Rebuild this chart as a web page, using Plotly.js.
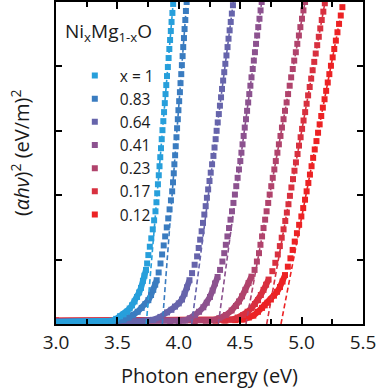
<!DOCTYPE html>
<html>
<head>
<meta charset="utf-8">
<script src="https://cdn.plot.ly/plotly-3.0.1.min.js"></script>
<style>html,body{margin:0;padding:0;background:#fff;}#chart{width:378px;height:390px;}</style>
</head>
<body>
<div id="chart"></div>
<script>
// ---- data ----
const labels = ['x = 1', '0.83', '0.64', '0.41', '0.23', '0.17', '0.12'];
const colors = ['#279fdb', '#3a7cc0', '#6664ab', '#8c528f', '#b0436c', '#d8303f', '#ec2224'];

// linear fits: energy where fit = 0 and where fit = 5
const fitLo = [3.735, 3.866, 4.105, 4.322, 4.547, 4.716, 4.832];
const fitHi = [3.955, 4.064, 4.444, 4.675, 5.028, 5.191, 5.340];
const fitY = [0, 5];

// x = 1
const tailX_100 = [3.00,3.40,3.456,3.49,3.521,3.55,3.578,3.60,3.619,3.64,3.66,3.677,3.692,3.708,3.72,3.733];
const tailY_100 = [0.03,0.03,0.05,0.08,0.12,0.15,0.19,0.24,0.29,0.35,0.42,0.49,0.56,0.67,0.75,0.84];
const markX_100 = [3.742,3.752,3.764,3.776,3.788,3.799,3.810,3.818,3.824,3.830,3.837,3.843,3.849,3.855,3.861,3.867,3.874,3.880,3.886,3.892,3.898,3.904,3.911,3.917,3.923,3.929,3.935,3.941,3.948,3.954];
const markY_100 = [0.94,1.07,1.20,1.33,1.47,1.61,1.75,1.89,2.03,2.17,2.31,2.45,2.59,2.73,2.87,3.01,3.15,3.29,3.43,3.57,3.71,3.85,3.99,4.13,4.27,4.41,4.55,4.69,4.83,4.97];

// x = 0.83
const tailX_083 = [3.00,3.40,3.44,3.50,3.548,3.59,3.629,3.665,3.698,3.728,3.752,3.774,3.792,3.808,3.82];
const tailY_083 = [0.03,0.03,0.04,0.05,0.065,0.10,0.14,0.19,0.25,0.31,0.37,0.45,0.53,0.61,0.68];
const markX_083 = [3.836,3.851,3.864,3.877,3.889,3.902,3.914,3.925,3.936,3.946,3.953,3.959,3.964,3.970,3.975,3.981,3.986,3.992,3.997,4.003,4.009,4.014,4.020,4.025,4.031,4.036,4.042,4.047,4.053,4.058,4.064];
const markY_083 = [0.80,0.94,1.08,1.22,1.36,1.50,1.64,1.78,1.92,2.06,2.20,2.34,2.48,2.62,2.76,2.90,3.04,3.18,3.32,3.46,3.60,3.74,3.88,4.02,4.16,4.30,4.44,4.58,4.72,4.86,5.00];

// x = 0.64
const tailX_064 = [3.00,3.60,3.70,3.79,3.85,3.904,3.94,3.969,4.00,4.026,4.047,4.067,4.087];
const tailY_064 = [0.035,0.035,0.045,0.065,0.11,0.18,0.22,0.27,0.32,0.38,0.47,0.57,0.68];
const markX_064 = [4.108,4.129,4.149,4.162,4.174,4.186,4.197,4.208,4.219,4.229,4.239,4.250,4.260,4.271,4.282,4.291,4.300,4.308,4.317,4.326,4.335,4.344,4.352,4.361,4.370,4.379,4.388,4.397,4.405,4.414,4.423,4.432,4.441];
const markY_064 = [0.79,0.92,1.05,1.18,1.31,1.44,1.57,1.70,1.83,1.96,2.09,2.22,2.35,2.48,2.61,2.74,2.87,3.00,3.13,3.26,3.39,3.52,3.65,3.78,3.91,4.04,4.17,4.30,4.43,4.56,4.69,4.82,4.95];

// x = 0.41
const tailX_041 = [3.00,3.93,4.00,4.05,4.09,4.132,4.165,4.20,4.228,4.254,4.275,4.295,4.316];
const tailY_041 = [0.04,0.04,0.045,0.055,0.09,0.14,0.19,0.26,0.33,0.42,0.52,0.63,0.73];
const markX_041 = [4.336,4.355,4.370,4.383,4.396,4.409,4.421,4.433,4.445,4.457,4.468,4.479,4.490,4.501,4.510,4.519,4.528,4.537,4.547,4.556,4.565,4.574,4.583,4.592,4.602,4.611,4.620,4.629,4.638,4.647,4.657,4.666,4.675];
const markY_041 = [0.84,0.97,1.10,1.23,1.36,1.49,1.62,1.75,1.88,2.01,2.14,2.27,2.40,2.53,2.66,2.79,2.92,3.05,3.18,3.31,3.44,3.57,3.70,3.83,3.96,4.09,4.22,4.35,4.48,4.61,4.74,4.87,5.00];

// x = 0.23
const tailX_023 = [3.00,4.13,4.22,4.279,4.33,4.384,4.43,4.466,4.49,4.515,4.542,4.568,4.592];
const tailY_023 = [0.045,0.045,0.05,0.06,0.09,0.14,0.21,0.28,0.35,0.43,0.53,0.635,0.735];
const markX_023 = [4.617,4.636,4.653,4.665,4.678,4.690,4.703,4.715,4.728,4.740,4.753,4.765,4.778,4.790,4.803,4.815,4.828,4.840,4.853,4.865,4.878,4.890,4.903,4.915,4.928,4.940,4.953,4.965,4.978,4.990,5.003,5.015,5.028];
const markY_023 = [0.84,0.97,1.10,1.23,1.36,1.49,1.62,1.75,1.88,2.01,2.14,2.27,2.40,2.53,2.66,2.79,2.92,3.05,3.18,3.31,3.44,3.57,3.70,3.83,3.96,4.09,4.22,4.35,4.48,4.61,4.74,4.87,5.00];

// x = 0.17
const tailX_017 = [3.00,4.30,4.37,4.433,4.48,4.525,4.56,4.594,4.62,4.645,4.668,4.690,4.711,4.731];
const tailY_017 = [0.05,0.05,0.055,0.07,0.10,0.14,0.19,0.25,0.31,0.37,0.45,0.53,0.61,0.69];
const markX_017 = [4.762,4.786,4.806,4.823,4.838,4.853,4.867,4.880,4.893,4.905,4.917,4.930,4.942,4.954,4.967,4.979,4.992,5.004,5.016,5.029,5.041,5.053,5.066,5.078,5.090,5.103,5.115,5.127,5.140,5.152,5.164,5.177,5.189];
const markY_017 = [0.82,0.95,1.08,1.21,1.34,1.47,1.60,1.73,1.86,1.99,2.12,2.25,2.38,2.51,2.64,2.77,2.90,3.03,3.16,3.29,3.42,3.55,3.68,3.81,3.94,4.07,4.20,4.33,4.46,4.59,4.72,4.85,4.98];

// x = 0.12
const tailX_012 = [3.00,4.38,4.46,4.525,4.57,4.607,4.645,4.678,4.70,4.722,4.75,4.775,4.80,4.824,4.845,4.865];
const tailY_012 = [0.055,0.055,0.06,0.07,0.10,0.13,0.19,0.25,0.29,0.33,0.38,0.44,0.50,0.575,0.66,0.76];
const markX_012 = [4.888,4.909,4.927,4.944,4.962,4.980,4.998,5.013,5.028,5.041,5.055,5.068,5.081,5.094,5.107,5.121,5.134,5.147,5.160,5.173,5.187,5.200,5.213,5.226,5.239,5.253,5.266,5.279,5.292,5.305,5.319,5.332,5.345];
const markY_012 = [0.89,1.02,1.15,1.28,1.41,1.54,1.67,1.80,1.93,2.06,2.19,2.32,2.45,2.58,2.71,2.84,2.97,3.10,3.23,3.36,3.49,3.62,3.75,3.88,4.01,4.14,4.27,4.40,4.53,4.66,4.79,4.92,5.05];

const xTickVals = [3.0, 3.5, 4.0, 4.5, 5.0, 5.5];
const xTickText = ['3.0', '3.5', '4.0', '4.5', '5.0', '5.5'];

// ---- build ----
const FONT = 'Open Sans, sans-serif';
const TXT = '#1a1a1a';
const tails = [[tailX_100,tailY_100],[tailX_083,tailY_083],[tailX_064,tailY_064],[tailX_041,tailY_041],[tailX_023,tailY_023],[tailX_017,tailY_017],[tailX_012,tailY_012]];
const marks = [[markX_100,markY_100],[markX_083,markY_083],[markX_064,markY_064],[markX_041,markY_041],[markX_023,markY_023],[markX_017,markY_017],[markX_012,markY_012]];

const traces = [];
for (let i = labels.length - 1; i >= 0; i--) {
  const c = colors[i];
  traces.push({
    x: tails[i][0], y: tails[i][1], type: 'scatter', mode: 'lines',
    line: {color: c, width: 6}, showlegend: false, hoverinfo: 'skip'
  });
  traces.push({
    x: tails[i][0].concat(marks[i][0]), y: tails[i][1].concat(marks[i][1]),
    type: 'scatter', mode: 'markers', name: labels[i], legendrank: i + 1,
    marker: {symbol: 'square', size: 6, color: c}
  });
  traces.push({
    x: [fitLo[i], fitHi[i]], y: fitY, type: 'scatter', mode: 'lines',
    line: {color: c, width: 1.6, dash: '5px,3px'}, showlegend: false, hoverinfo: 'skip'
  });
}

const layout = {
  width: 378, height: 390,
  margin: {l: 56, r: 15, t: 2, b: 66},
  paper_bgcolor: '#fff', plot_bgcolor: '#fff',
  font: {family: FONT, color: TXT},
  showlegend: true,
  legend: {
    x: 0.045, y: 0.823, xanchor: 'left', yanchor: 'top',
    bgcolor: 'rgba(0,0,0,0)', font: {size: 15.5, family: FONT, color: TXT},
    traceorder: 'normal', itemwidth: 40
  },
  xaxis: {
    range: [3, 5.5], tickmode: 'array', tickvals: xTickVals, ticktext: xTickText,
    ticks: 'inside', ticklen: 7, tickwidth: 2, tickcolor: '#000',
    minor: {dtick: 0.25, tick0: 3, ticks: 'inside', ticklen: 5, tickwidth: 2, tickcolor: '#000'},
    showline: true, linewidth: 2, linecolor: '#000', mirror: 'ticks',
    showgrid: false, zeroline: false,
    tickfont: {size: 19, family: FONT, color: TXT},
    title: {text: 'Photon energy (eV)', font: {size: 20, family: FONT, color: TXT}, standoff: 15}
  },
  yaxis: {
    range: [0, 5], tickmode: 'array', tickvals: [1, 2, 3, 4], showticklabels: false,
    ticks: 'inside', ticklen: 6, tickwidth: 2, tickcolor: '#000',
    showline: true, linewidth: 2, linecolor: '#000', mirror: 'ticks',
    showgrid: false, zeroline: false
  },
  annotations: [
    {text: 'Ni<sub>x</sub>Mg<sub>1-x</sub>O', xref: 'paper', yref: 'paper', x: 0.022, y: 0.906,
     xanchor: 'left', yanchor: 'middle', showarrow: false, font: {size: 19, family: FONT, color: TXT}},
    {text: '(<i>αhν</i>)<sup>2</sup> (eV/m)<sup>2</sup>', xref: 'paper', yref: 'paper', x: -0.117, y: 0.531,
     xanchor: 'center', yanchor: 'middle', textangle: -90, showarrow: false, font: {size: 20, family: FONT, color: TXT}}
  ]
};

Plotly.newPlot('chart', traces, layout, {displayModeBar: false, staticPlot: true});
</script>
</body>
</html>
